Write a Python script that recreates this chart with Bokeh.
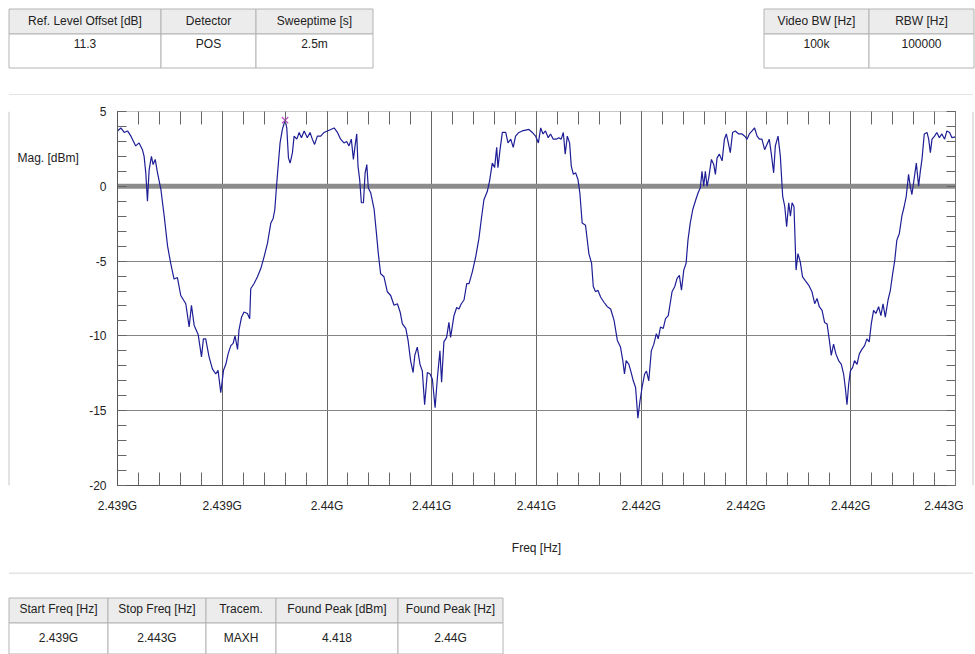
from bokeh.plotting import figure
from bokeh.models import FixedTicker, LinearAxis, Span, Range1d
from bokeh.layouts import column, row
from bokeh.core.properties import value
from bokeh.embed import file_html
from bokeh.resources import INLINE

# ---------------- data ----------------
freq_mhz = [
    2439.000, 2439.016, 2439.032, 2439.048, 2439.064, 2439.087, 2439.103, 2439.119, 2439.127, 2439.135,
    2439.143, 2439.151, 2439.162, 2439.170, 2439.180, 2439.191, 2439.207, 2439.223, 2439.239, 2439.254,
    2439.270, 2439.286, 2439.302, 2439.326, 2439.342, 2439.353, 2439.366, 2439.385, 2439.401, 2439.410,
    2439.421, 2439.437, 2439.453, 2439.469, 2439.480, 2439.493, 2439.506, 2439.517, 2439.528, 2439.541,
    2439.552, 2439.561, 2439.573, 2439.580, 2439.592, 2439.604, 2439.620, 2439.631, 2439.636, 2439.652,
    2439.668, 2439.684, 2439.700, 2439.716, 2439.732, 2439.743, 2439.751, 2439.759, 2439.768, 2439.776,
    2439.787, 2439.800, 2439.808, 2439.816, 2439.824, 2439.835, 2439.843, 2439.856, 2439.867, 2439.878,
    2439.891, 2439.906, 2439.919, 2439.930, 2439.941, 2439.954, 2439.970, 2439.986, 2440.002, 2440.018,
    2440.034, 2440.050, 2440.065, 2440.081, 2440.094, 2440.105, 2440.116, 2440.126, 2440.134, 2440.142,
    2440.148, 2440.156, 2440.164, 2440.174, 2440.182, 2440.190, 2440.197, 2440.209, 2440.225, 2440.236,
    2440.245, 2440.256, 2440.272, 2440.288,
    2440.304, 2440.320, 2440.336, 2440.349, 2440.360, 2440.376, 2440.387, 2440.399, 2440.411, 2440.419,
    2440.431, 2440.444, 2440.455, 2440.466, 2440.479, 2440.492, 2440.503, 2440.516, 2440.527, 2440.539,
    2440.547, 2440.558, 2440.571, 2440.582, 2440.590, 2440.606, 2440.619, 2440.630, 2440.641, 2440.654,
    2440.667, 2440.678, 2440.694, 2440.710, 2440.725, 2440.737, 2440.749, 2440.765, 2440.776, 2440.789,
    2440.800, 2440.810, 2440.816, 2440.826, 2440.837, 2440.853, 2440.864, 2440.877, 2440.889, 2440.900,
    2440.916, 2440.932, 2440.948, 2440.964, 2440.980, 2440.996, 2441.009, 2441.020, 2441.031, 2441.043,
    2441.056, 2441.067, 2441.080, 2441.094, 2441.107, 2441.118, 2441.128, 2441.137, 2441.147, 2441.158,
    2441.166, 2441.176, 2441.187, 2441.198, 2441.207, 2441.218, 2441.234, 2441.250, 2441.263, 2441.271,
    2441.282, 2441.293, 2441.306, 2441.322, 2441.338, 2441.354, 2441.370, 2441.386, 2441.401, 2441.412,
    2441.420, 2441.428, 2441.441, 2441.452, 2441.462, 2441.473, 2441.484, 2441.494, 2441.505, 2441.516,
    2441.525, 2441.536, 2441.548, 2441.560, 2441.572, 2441.581, 2441.592, 2441.605, 2441.616, 2441.629,
    2441.647, 2441.660, 2441.671, 2441.682, 2441.692, 2441.703, 2441.714, 2441.723, 2441.734, 2441.746,
    2441.758, 2441.771, 2441.782, 2441.790, 2441.798, 2441.806, 2441.814, 2441.822, 2441.835, 2441.846,
    2441.854, 2441.862, 2441.873, 2441.886, 2441.897, 2441.906, 2441.914, 2441.925, 2441.936, 2441.949,
    2441.965, 2441.981, 2441.994, 2442.005, 2442.016, 2442.029, 2442.041, 2442.053, 2442.064, 2442.076,
    2442.089, 2442.100, 2442.111, 2442.121, 2442.132, 2442.140, 2442.153, 2442.164, 2442.175, 2442.185,
    2442.194, 2442.204, 2442.212, 2442.220, 2442.229, 2442.239, 2442.248, 2442.259, 2442.270, 2442.283,
    2442.299, 2442.315, 2442.328, 2442.339, 2442.350, 2442.363, 2442.375, 2442.387, 2442.398, 2442.407,
    2442.418, 2442.429, 2442.442, 2442.455, 2442.466, 2442.474, 2442.482, 2442.490, 2442.498, 2442.509,
    2442.518, 2442.530, 2442.541, 2442.553, 2442.566, 2442.577, 2442.588, 2442.598, 2442.609, 2442.620,
    2442.633, 2442.644, 2442.654, 2442.665, 2442.678, 2442.689, 2442.700, 2442.710, 2442.720, 2442.732,
    2442.744, 2442.755, 2442.765, 2442.776, 2442.784, 2442.792, 2442.803, 2442.813, 2442.824, 2442.832,
    2442.840, 2442.851, 2442.864, 2442.872, 2442.880, 2442.888, 2442.900, 2442.911, 2442.923, 2442.935,
    2442.948, 2442.959, 2442.972, 2442.983, 2443.000,
]
mag_dbm = [
    3.7, 3.9, 3.6, 3.7, 3.35, 2.7, 2.9, 2.45, 2.0, 0.9,
    -1.0, 1.1, 2.0, 1.45, 1.8, 0.9, -0.2, -2.0, -4.0, -5.15,
    -6.2, -6.1, -7.3, -7.85, -9.4, -7.95, -9.3, -9.9, -11.4, -10.2,
    -10.2, -11.4, -12.2, -12.55, -12.3, -13.8, -12.3, -11.9, -11.2, -10.65,
    -10.5, -10.0, -10.9, -9.6, -8.75, -8.4, -8.5, -8.85, -6.85, -6.5,
    -6.05, -5.5, -4.7, -3.8, -2.45, -2.15, -1.55, 0.0, 1.55, 2.9,
    3.8, 4.418, 3.9, 1.9, 1.55, 2.25, 3.35, 3.15, 3.6, 3.25,
    3.7, 3.25, 3.6, 3.15, 2.8, 3.35, 3.35, 3.6, 3.7, 3.8,
    3.9, 3.6, 3.15, 2.9, 3.0, 2.7, 3.15, 1.8, 2.7, 3.5,
    1.35, 0.45, -1.1, -1.1, 0.9, 1.45, -0.1, -0.45, -1.55, -3.15,
    -4.5, -5.85, -6.05, -7.05,
    -7.3, -7.95, -7.85, -8.4, -9.2, -9.5, -10.3, -11.65, -12.45, -11.3,
    -10.75, -11.9, -12.35, -14.6, -12.45, -12.55, -12.9, -14.8, -12.8, -11.0,
    -13.1, -10.4, -10.1, -9.1, -10.1, -8.65, -8.1, -8.2, -7.85, -7.6,
    -6.5, -6.5, -5.7, -4.7, -3.5, -2.15, -0.9, -0.35, 0.35, 1.55,
    1.25, 2.6, 1.25, 2.45, 3.6, 3.6, 2.9, 3.15, 2.6, 3.35,
    3.6, 3.7, 3.75, 3.8, 3.6, 3.35, 2.9, 3.9, 3.5, 3.7,
    3.25, 3.5, 3.15, 3.15, 3.25, 3.15, 3.6, 2.15, 3.35, 2.9,
    1.35, 0.8, 0.9, 0.45, -0.45, -2.45, -2.6, -4.5, -5.15, -6.7,
    -7.05, -6.95, -7.4, -7.75, -8.05, -8.2, -8.95, -10.3, -10.75, -11.65,
    -12.55, -11.65, -11.9, -12.45, -13.0, -13.45, -15.5, -14.35, -13.35, -12.55,
    -12.35, -13.0, -11.0, -10.55, -9.85, -10.2, -9.4, -9.5, -8.85, -8.65,
    -7.05, -6.7, -6.15, -5.95, -6.95, -5.6, -5.15, -3.6, -2.45, -1.55,
    -1.0, -0.45, -0.1, 1.0, 0.0, 1.0, 0.0, 0.55, 1.8, 1.45,
    0.8, 1.9, 2.15, 1.7, 3.15, 3.5, 3.0, 2.25, 3.6, 3.7,
    3.5, 3.5, 3.35, 3.15, 3.5, 3.7, 3.9, 3.35, 3.15, 3.15,
    2.45, 2.8, 3.15, 2.15, 0.9, 2.7, 3.35, 2.0, -0.65, -1.35,
    -2.7, -1.1, -2.0, -1.1, -1.35, -5.6, -4.5, -5.05, -6.05, -6.3,
    -6.6, -7.05, -7.85, -7.5, -8.05, -8.3, -9.1, -9.2, -10.3, -11.3,
    -10.55, -11.2, -11.65, -11.9, -12.55, -13.45, -14.6, -13.25, -12.35, -12.1,
    -11.65, -11.9, -11.2, -10.9, -10.65, -10.2, -10.4, -9.2, -8.3, -8.5,
    -8.05, -8.65, -7.85, -8.75, -7.6, -6.95, -5.85, -4.95, -3.6, -3.15,
    -2.0, -1.35, -0.65, 0.8, 0.0, -0.55, 0.55, 1.55, 0.0, 1.0,
    1.8, 3.5, 3.6, 3.15, 2.25, 3.15, 3.35, 3.6, 3.25, 3.5,
    3.15, 3.7, 3.6, 3.25, 3.3,
]

peak_freq_mhz = [2439.800]
peak_mag_dbm = [4.418]
ref_line_level = 0

x_tick_values = [2439.0, 2439.5, 2440.0, 2440.5, 2441.0, 2441.5, 2442.0, 2442.5, 2443.0]
x_tick_labels = ["2.439G", "2.439G", "2.44G", "2.441G", "2.441G", "2.442G", "2.442G", "2.442G", "2.443G"]
y_tick_values = [-20, -15, -10, -5, 0, 5]
y_tick_labels = ["-20", "-15", "-10", "-5", "0", "5"]
x_range_mhz = (2439.0, 2443.0)
y_range_dbm = (-20, 5)

top_left_headers = ["Ref. Level Offset [dB]", "Detector", "Sweeptime [s]"]
top_left_values = ["11.3", "POS", "2.5m"]
top_right_headers = ["Video BW [Hz]", "RBW [Hz]"]
top_right_values = ["100k", "100000"]
bottom_headers = ["Start Freq [Hz]", "Stop Freq [Hz]", "Tracem.", "Found Peak [dBm]", "Found Peak [Hz]"]
bottom_values = ["2.439G", "2.443G", "MAXH", "4.418", "2.44G"]

y_axis_title = "Mag. [dBm]"
x_axis_title = "Freq [Hz]"

# ---------------- styling ----------------
FONT = "Liberation Sans"
TXT = "#222222"
CELL_LINE = "#b4b4b4"
PANEL_LINE = "#c8c8c8"
HEADER_FILL = "#ececec"


def blank_fig(w, h):
    """A figure whose data space equals its pixel space (y grows downward)."""
    f = figure(width=w, height=h, x_range=Range1d(0, w), y_range=Range1d(h, 0),
               output_backend="svg", toolbar_location=None, title=None,
               min_border=0, min_border_left=0, min_border_right=0,
               min_border_top=0, min_border_bottom=0,
               x_axis_location=None, y_axis_location=None, outline_line_color=None,
               background_fill_color="white", border_fill_color="white")
    f.grid.visible = False
    return f


def draw_text(f, xs, ys, texts, align="center"):
    f.text(x=xs, y=ys, text=texts, text_align=align, text_baseline="middle",
           text_font=value(FONT), text_font_size=value("12px"), text_color=TXT)


def draw_table(f, edges, rows, headers, values, text_rows):
    n = len(headers)
    lefts = edges[:-1]
    rights = edges[1:]
    f.quad(left=lefts, right=rights, top=[rows[0]] * n, bottom=[rows[1]] * n,
           fill_color=HEADER_FILL, line_color=CELL_LINE, line_width=1)
    f.quad(left=lefts, right=rights, top=[rows[1]] * n, bottom=[rows[2]] * n,
           fill_color="white", line_color=CELL_LINE, line_width=1)
    centers = [(l + r) / 2 for l, r in zip(lefts, rights)]
    draw_text(f, centers, [text_rows[0]] * n, headers)
    draw_text(f, centers, [text_rows[1]] * n, values)


# ---- top strip: parameter tables + top edge of chart panel ----
top_fig = blank_fig(975, 95)
draw_table(top_fig, [8.5, 160.5, 255.5, 372.5], [8.5, 33.5, 67.5],
           top_left_headers, top_left_values, [20.5, 43])
draw_table(top_fig, [763.5, 868.5, 973.5], [8.5, 33.5, 67.5],
           top_right_headers, top_right_values, [20.5, 43])
top_fig.segment(x0=[8.5], y0=[94.5], x1=[972.5], y1=[94.5], line_color=PANEL_LINE, line_width=1)

# ---- left strip: panel left edge + magnitude title ----
left_fig = blank_fig(84, 477)
left_fig.segment(x0=[8.5], y0=[0], x1=[8.5], y1=[477], line_color=PANEL_LINE, line_width=1)
draw_text(left_fig, [17], [59], [y_axis_title], align="left")

# ---- right strip: panel right edge ----
right_fig = blank_fig(12, 477)
right_fig.segment(x0=[9.5], y0=[0], x1=[9.5], y1=[477], line_color=PANEL_LINE, line_width=1)

# ---- main chart ----
p = figure(width=879, height=477, x_range=Range1d(*x_range_mhz), y_range=Range1d(*y_range_dbm),
           output_backend="svg", toolbar_location=None, title=None,
           min_border_left=33, min_border_right=8, min_border_top=16, min_border_bottom=87,
           background_fill_color="white", border_fill_color="white", outline_line_color=None)

x_minor = [x_range_mhz[0] + 0.1 * i for i in range(41)]
y_minor = list(range(-20, 6))


def xticker():
    return FixedTicker(ticks=x_tick_values, minor_ticks=x_minor)


def yticker():
    return FixedTicker(ticks=y_tick_values, minor_ticks=y_minor)


xa = p.xaxis[0]
xa.ticker = xticker()
xa.major_label_overrides = {v: l for v, l in zip(x_tick_values, x_tick_labels)}
xa.major_label_text_font = FONT
xa.major_label_text_font_size = "12px"
xa.major_label_text_color = TXT
xa.major_label_standoff = 13
xa.major_tick_in = 13
xa.major_tick_out = 0
xa.minor_tick_in = 13
xa.minor_tick_out = 0
xa.major_tick_line_color = "#666666"
xa.minor_tick_line_color = "#666666"
xa.axis_line_color = "#555555"
xa.axis_label = x_axis_title
xa.axis_label_text_font = FONT
xa.axis_label_text_font_style = "normal"
xa.axis_label_text_font_size = "12px"
xa.axis_label_text_color = TXT
xa.axis_label_standoff = 25

ya = p.yaxis[0]
ya.ticker = yticker()
ya.major_label_overrides = {v: l for v, l in zip(y_tick_values, y_tick_labels)}
ya.major_label_text_font = FONT
ya.major_label_text_font_size = "12px"
ya.major_label_text_color = TXT
ya.major_label_standoff = 11
ya.major_tick_in = 0
ya.major_tick_out = 0
ya.minor_tick_in = 9
ya.minor_tick_out = 0
ya.minor_tick_line_color = "#666666"
ya.axis_line_color = "#555555"

top_axis = LinearAxis(ticker=xticker(), major_label_text_font_size="0px", major_label_standoff=0,
                      major_tick_in=13, major_tick_out=0, minor_tick_in=13, minor_tick_out=0,
                      major_tick_line_color="#666666", minor_tick_line_color="#666666",
                      axis_line_color="#c8c8c8")
top_axis.major_label_overrides = {v: "" for v in x_tick_values}
p.add_layout(top_axis, "above")

right_axis = LinearAxis(ticker=yticker(), major_label_text_font_size="0px", major_label_standoff=0,
                        major_tick_in=0, major_tick_out=0, minor_tick_in=9, minor_tick_out=0,
                        minor_tick_line_color="#666666", axis_line_color="#777777")
right_axis.major_label_overrides = {v: "" for v in y_tick_values}
p.add_layout(right_axis, "right")

p.xgrid.ticker = xticker()
p.ygrid.ticker = FixedTicker(ticks=[t for t in y_tick_values if t < y_range_dbm[1]])
p.xgrid.grid_line_color = "#666666"
p.ygrid.grid_line_color = "#858585"

p.add_layout(Span(location=ref_line_level, dimension="width", line_color="#8c8c8c",
                  line_width=5, level="underlay"))

p.line(freq_mhz, mag_dbm, line_color="#1e1e96", line_width=1.2)
p.scatter(peak_freq_mhz, peak_mag_dbm, marker="x", size=9, line_color="#c050c8", line_width=1.3)

# ---- bottom strip: panel bottom edge + result table ----
bottom_fig = blank_fig(975, 82)
bottom_fig.segment(x0=[8.5], y0=[0.5], x1=[972.5], y1=[0.5], line_color=PANEL_LINE, line_width=1)
draw_table(bottom_fig, [8.5, 107.5, 205.5, 275.5, 397.5, 502.5], [25.5, 50.5, 81.5],
           bottom_headers, bottom_values, [36, 65])

layout = column(top_fig, row(left_fig, p, right_fig), bottom_fig)

open("out.html", "w").write(file_html(layout, INLINE))
